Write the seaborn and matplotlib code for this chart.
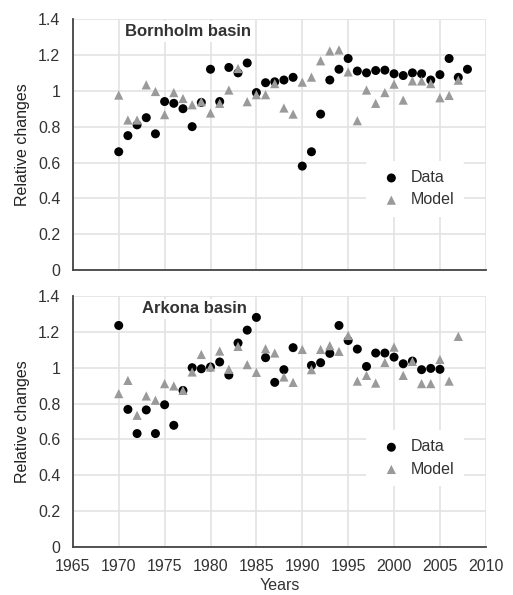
import pandas as pd
import seaborn as sns
import matplotlib.pyplot as plt

# Bornholm basin
bh_data_years = list(range(1970, 2009))
bh_data = [0.66, 0.75, 0.81, 0.85, 0.76, 0.94, 0.93, 0.90, 0.80, 0.935,
           1.12, 0.94, 1.13, 1.10, 1.155, 0.99, 1.045, 1.05, 1.06, 1.075,
           0.58, 0.66, 0.87, 1.06, 1.12, 1.18, 1.11, 1.10, 1.113, 1.115,
           1.095, 1.085, 1.10, 1.095, 1.06, 1.09, 1.18, 1.075, 1.12]
bh_model_years = list(range(1970, 2008))
bh_model = [0.976, 0.837, 0.837, 1.033, 0.996, 0.867, 0.99, 0.957, 0.922, 0.939,
            0.876, 0.93, 1.004, 1.124, 0.939, 0.978, 0.978, 1.04, 0.904, 0.87,
            1.048, 1.076, 1.167, 1.222, 1.228, 1.105, 0.833, 1.004, 0.93, 0.99,
            1.037, 0.948, 1.055, 1.055, 1.04, 0.961, 0.974, 1.059]

# Arkona basin
ak_data_years = list(range(1970, 1990)) + list(range(1991, 2006))
ak_data = [1.237, 0.768, 0.633, 0.765, 0.633, 0.794, 0.679, 0.874, 1.001, 0.995,
           1.005, 1.033, 0.96, 1.139, 1.211, 1.282, 1.057, 0.919, 0.99, 1.113,
           1.014, 1.029, 1.081, 1.237, 1.153, 1.105, 1.008, 1.083, 1.083, 1.06,
           1.023, 1.038, 0.99, 0.997, 0.992]
ak_model_years = list(range(1970, 2008))
ak_model = [0.856, 0.93, 0.735, 0.843, 0.819, 0.912, 0.899, 0.874, 0.977, 1.075,
            1.005, 1.094, 0.992, 1.12, 1.018, 0.975, 1.107, 1.083, 0.949, 0.919,
            1.103, 0.99, 1.103, 1.124, 1.092, 1.181, 0.926, 0.958, 0.915, 1.03,
            1.116, 0.958, 1.036, 0.912, 0.912, 1.047, 0.926, 1.176]

y_ticks = [0, 0.2, 0.4, 0.6, 0.8, 1, 1.2, 1.4]
y_labels = ['0', '0.2', '0.4', '0.6', '0.8', '1', '1.2', '1.4']
x_ticks = [1965, 1970, 1975, 1980, 1985, 1990, 1995, 2000, 2005, 2010]

sns.set_style('white')
plt.rcParams['font.family'] = ['Liberation Sans', 'DejaVu Sans']

fig = plt.figure(figsize=(5.13, 5.95), dpi=100)
ax_top = fig.add_axes([0.142, 0.546, 0.805, 0.422])
ax_bot = fig.add_axes([0.142, 0.081, 0.805, 0.421])

panels = [
    (ax_top, 'Bornholm basin', 1977.6, bh_data_years, bh_data, bh_model_years, bh_model, 0.18),
    (ax_bot, 'Arkona basin', 1978.3, ak_data_years, ak_data, ak_model_years, ak_model, 0.21),
]

for ax, title, tx, dy, dv, my, mv, leg_y in panels:
    df_data = pd.DataFrame({'Year': dy, 'Value': dv})
    df_model = pd.DataFrame({'Year': my, 'Value': mv})
    sns.scatterplot(data=df_data, x='Year', y='Value', ax=ax, color='black',
                    marker='o', s=42, edgecolor='none', label='Data', zorder=3)
    sns.scatterplot(data=df_model, x='Year', y='Value', ax=ax, color='#9a9a9a',
                    marker='^', s=44, edgecolor='none', label='Model', zorder=4)
    ax.set_xlim(1965, 2010)
    ax.set_ylim(0, 1.4)
    ax.set_xticks(x_ticks)
    ax.set_yticks(y_ticks)
    ax.set_yticklabels(y_labels)
    ax.grid(True, color='#e3e3e3', linewidth=1.2)
    ax.set_axisbelow(True)
    for side in ['top', 'right']:
        ax.spines[side].set_visible(False)
    ax.spines['left'].set_color('#444444')
    ax.spines['bottom'].set_color('#444444')
    ax.spines['left'].set_linewidth(1.3)
    ax.spines['bottom'].set_linewidth(1.3)
    ax.tick_params(axis='both', labelsize=11.5, length=0, colors='#333333')
    ax.tick_params(axis='y', pad=9)
    ax.tick_params(axis='x', pad=9)
    ax.set_ylabel('Relative changes', fontsize=11.5, color='#222222', labelpad=6)
    ax.text(tx, 1.33, title, fontsize=12, fontweight='bold', color='#333333',
            ha='center', va='center', zorder=2.5,
            bbox=dict(facecolor='white', edgecolor='none', pad=2))
    leg = ax.legend(loc='lower left', bbox_to_anchor=(0.69, leg_y), frameon=True,
                    fontsize=11.5, handletextpad=0.2, borderpad=0.6,
                    labelspacing=0.45, markerscale=1.0)
    leg.get_frame().set_facecolor('white')
    leg.get_frame().set_edgecolor('none')
    leg.get_frame().set_alpha(1)
    for t in leg.get_texts():
        t.set_color('#333333')

ax_top.set_xlabel('')
ax_top.set_xticklabels([])
ax_bot.set_xlabel('Years', fontsize=11.5, color='#333333', labelpad=3)

fig.savefig('out.png', dpi=100)
